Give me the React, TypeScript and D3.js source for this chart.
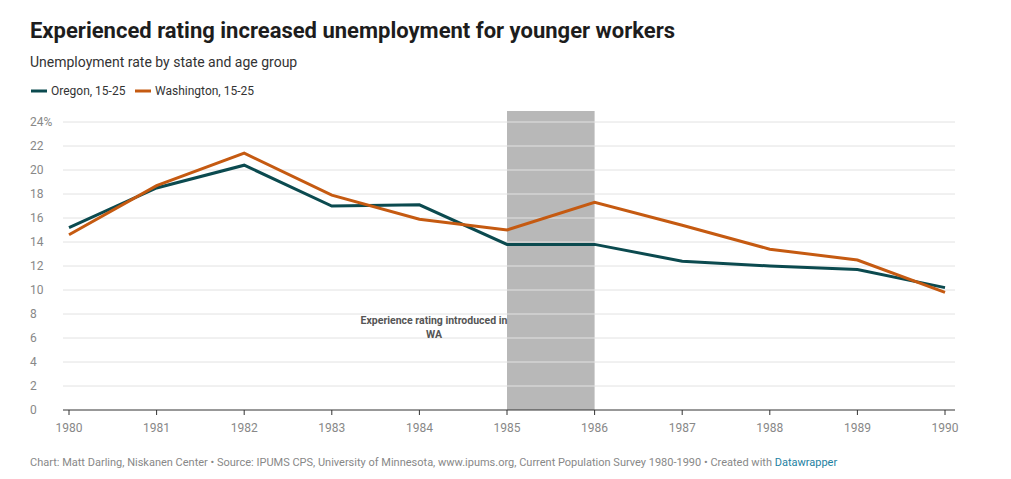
import React from "react";
import * as d3 from "d3";

const years = [1980,1981,1982,1983,1984,1985,1986,1987,1988,1989,1990];
const oregon = [15.2,18.5,20.4,17.0,17.1,13.8,13.8,12.4,12.0,11.7,10.2];
const washington = [14.6,18.7,21.4,17.9,15.9,15.0,17.3,15.4,13.4,12.5,9.8];
const yTicks = [0,2,4,6,8,10,12,14,16,18,20,22,24];

export default function App() {
  const x = d3.scaleLinear().domain([1980,1990]).range([69,945]);
  const y = d3.scaleLinear().domain([0,24]).range([410,122]);
  const line = d3.line<number>().x((_, i) => x(years[i])).y(d => y(d));
  const font = "Roboto, sans-serif";
  return (
    <svg width={1011} height={479} style={{position:"absolute",left:0,top:0,fontFamily:font}}>
      <rect width={1011} height={479} fill="#fff"/>
      <text x={30} y={38} fontSize={22} fontWeight={700} fill="#1d1d1d" textLength={645}>Experienced rating increased unemployment for younger workers</text>
      <text x={30} y={67} fontSize={14} fill="#333">Unemployment rate by state and age group</text>
      <line x1={31} x2={47} y1={91} y2={91} stroke="#0b4a4f" strokeWidth={3}/>
      <text x={51} y={95} fontSize={12} fill="#333">Oregon, 15-25</text>
      <line x1={135} x2={151} y1={91} y2={91} stroke="#c55a11" strokeWidth={3}/>
      <text x={155} y={95} fontSize={12} fill="#333">Washington, 15-25</text>
      <rect x={x(1985)} width={x(1986)-x(1985)} y={111} height={410-111} fill="#b8b8b8"/>
      {yTicks.map(t => (
        <g key={t}>
          {t>0 && <line x1={63} x2={955} y1={y(t)} y2={y(t)} stroke="#e2e2e2"/>}
          <text x={30} y={y(t)+4} fontSize={12} fill="#888">{t===24?"24%":t}</text>
        </g>
      ))}
      <line x1={63} x2={955} y1={410} y2={410} stroke="#333"/>
      {years.map(yr => (
        <g key={yr}>
          <line x1={x(yr)} x2={x(yr)} y1={410} y2={415} stroke="#333"/>
          <text x={x(yr)} y={432} fontSize={12} fill="#888" textAnchor="middle">{yr}</text>
        </g>
      ))}
      <text x={434} y={324} fontSize={10.5} fontWeight={700} fill="#555" textAnchor="middle">Experience rating introduced in</text>
      <text x={434} y={338} fontSize={10.5} fontWeight={700} fill="#555" textAnchor="middle">WA</text>
      <path d={line(oregon)!} fill="none" stroke="#0b4a4f" strokeWidth={3}/>
      <path d={line(washington)!} fill="none" stroke="#c55a11" strokeWidth={3}/>
      <text x={30} y={466} fontSize={11} fill="#888">Chart: Matt Darling, Niskanen Center • Source: IPUMS CPS, University of Minnesota, www.ipums.org, Current Population Survey 1980-1990 • Created with <tspan fill="#1d81a2">Datawrapper</tspan></text>
    </svg>
  );
}
